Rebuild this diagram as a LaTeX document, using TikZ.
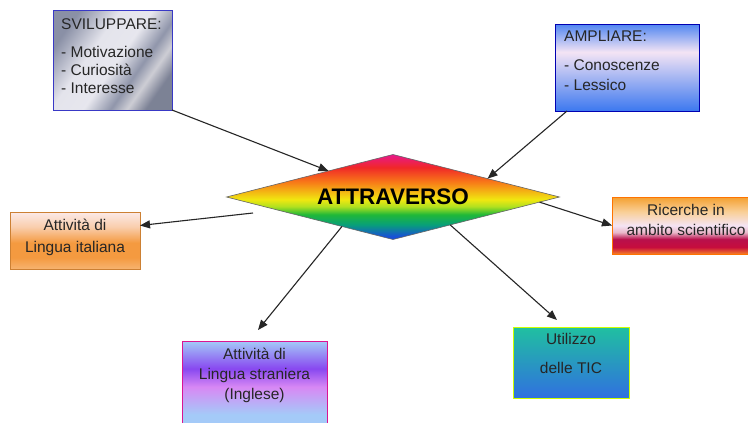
\documentclass[tikz,border=0pt]{standalone}
\usepackage{fontspec}
\setmainfont{Liberation Sans}
\usetikzlibrary{shapes.geometric,arrows.meta}

\definecolor{rbMagenta}{HTML}{E8188C}
\definecolor{rbRed}{HTML}{F02828}
\definecolor{rbOrange}{HTML}{F87818}
\definecolor{rbYellow}{HTML}{F0E810}
\definecolor{rbLime}{HTML}{B0E020}
\definecolor{rbGreen}{HTML}{20B838}
\definecolor{rbTeal}{HTML}{08A078}
\definecolor{rbBlue}{HTML}{1850D8}
\definecolor{metalDark}{HTML}{8A90A6}
\definecolor{metalLight}{HTML}{E4E4EC}
\definecolor{skyBlue}{HTML}{3C78F0}
\definecolor{skyPale}{HTML}{F4E4F4}
\definecolor{peach}{HTML}{F49A40}
\definecolor{peachPale}{HTML}{FCEAE8}
\definecolor{crimson}{HTML}{B8104C}
\definecolor{amber}{HTML}{F4A030}
\definecolor{violet}{HTML}{8848F0}
\definecolor{orchid}{HTML}{D888F4}
\definecolor{iceBlue}{HTML}{A4CAF8}
\definecolor{sea}{HTML}{20C0A0}
\definecolor{ocean}{HTML}{3070E0}

% rainbow for the central diamond
\pgfdeclareverticalshading{rainbow}{100bp}{color(0bp)=(rbBlue); color(26.8bp)=(rbBlue);
  color(33.8bp)=(rbTeal); color(39.7bp)=(rbGreen); color(44.4bp)=(rbLime);
  color(48.5bp)=(rbYellow); color(59bp)=(rbOrange); color(67.4bp)=(rbRed);
  color(75bp)=(rbMagenta); color(100bp)=(rbMagenta)}
\pgfdeclarehorizontalshading{metal}{100bp}{color(0bp)=(metalDark); color(25bp)=(metalDark);
  color(40bp)=(metalLight); color(52bp)=(metalLight!90!white); color(62bp)=(metalDark!95!white);
  color(68bp)=(metalLight!90!black); color(75bp)=(metalDark!90!black); color(100bp)=(metalDark!90!black)}
\pgfdeclareverticalshading{sky}{100bp}{color(0bp)=(skyBlue); color(25bp)=(skyBlue);
  color(58.9bp)=(skyPale); color(75bp)=(skyBlue!90!white); color(100bp)=(skyBlue!90!white)}
\pgfdeclareverticalshading{peachy}{100bp}{color(0bp)=(peach!75!white); color(25bp)=(peach!75!white);
  color(35bp)=(peach); color(48bp)=(peach); color(62bp)=(peach!35!peachPale);
  color(75bp)=(peachPale); color(100bp)=(peachPale)}
\pgfdeclareverticalshading{sunset}{100bp}{color(0bp)=(amber!80!red); color(25bp)=(amber!80!red);
  color(31bp)=(crimson!80!red); color(38bp)=(crimson); color(44bp)=(crimson!30!white);
  color(50bp)=(skyPale); color(62bp)=(amber!50!white); color(75bp)=(amber); color(100bp)=(amber)}
\pgfdeclareverticalshading{lilac}{100bp}{color(0bp)=(iceBlue); color(25bp)=(iceBlue);
  color(35bp)=(iceBlue); color(50bp)=(orchid); color(60bp)=(violet); color(75bp)=(iceBlue);
  color(100bp)=(iceBlue)}
\pgfdeclareverticalshading{lagoon}{100bp}{color(0bp)=(ocean); color(25bp)=(ocean);
  color(75bp)=(sea); color(100bp)=(sea)}

\begin{document}
\begin{tikzpicture}[x=1pt,y=-1pt,
    card/.style={draw, rectangle, anchor=north west, inner sep=0pt, outer sep=0pt, line width=1pt},
    cardtext/.style={inner sep=0pt, text=black!85, font=\fontsize{15.5}{18}\selectfont},
    link/.style={draw=black!85, line width=1.1pt, -{Triangle[length=10pt,width=8pt]}}]
  \clip (0,0) rectangle (748,423);
  \fill[white] (0,0) rectangle (748,423);

  % centre
  \node[diamond, aspect=3.9, draw=black!60, line width=0.6pt, shading=rainbow,
    minimum width=333pt, minimum height=85pt, inner sep=0pt, outer sep=0pt,
    font=\fontsize{22.5}{27}\selectfont\bfseries] (hub) at (393,197) {ATTRAVERSO};

  % boxes
  \node[card, draw=blue!55!gray, shading=metal, shading angle=-35,
    minimum width=119pt, minimum height=100pt] (svil) at (53,10) {};
  \node[cardtext, anchor=north west, align=left] (sviltxt) at (61,18)
    {SVILUPPARE:\\[10pt]- Motivazione\\- Curiosità\\- Interesse};

  \node[card, draw=blue!70!black, shading=sky,
    minimum width=144pt, minimum height=87pt] (ampl) at (555,24) {};
  \node[cardtext, anchor=north west, align=left,
    font=\fontsize{15.5}{19}\selectfont] (ampltxt) at (564,31)
    {AMPLIARE:\\[10pt]- Conoscenze\\[1pt]- Lessico};

  \node[card, draw=brown!80!orange, shading=peachy,
    minimum width=130pt, minimum height=57pt] (ital) at (10,212) {};
  \node[cardtext, anchor=north, align=center,
    font=\fontsize{15.5}{22}\selectfont] (italtxt) at (75,218.5) {Attività di\\Lingua italiana};

  \node[card, draw=orange!90!red, shading=sunset,
    minimum width=148pt, minimum height=57pt] (ricer) at (612,197) {};
  \node[cardtext, anchor=north, align=center,
    font=\fontsize{15.5}{20}\selectfont] (ricertxt) at (686,204.5) {Ricerche in\\ambito scientifico};

  \node[card, draw=magenta!80!violet, shading=lilac,
    minimum width=145pt, minimum height=92pt] (stran) at (182,341) {};
  \node[cardtext, anchor=north, align=center,
    font=\fontsize{15.5}{20}\selectfont] (strantxt) at (254.5,347.5)
    {Attività di\\Lingua straniera\\(Inglese)};

  \node[card, draw=lime!80!yellow, shading=lagoon,
    minimum width=116pt, minimum height=71pt] (tic) at (513,327) {};
  \node[cardtext, anchor=north, align=center] (tictxt) at (571,333.5)
    {Utilizzo\\[11pt]delle TIC};

  % free ends
  \coordinate (italfrom) at (253,213);
  \coordinate (stranto) at (258,330);
  \coordinate (ticto) at (557,320);

  % connectors
  \draw[link] (svil.south east) -- (hub.158);
  \draw[link] ([xshift=12pt]ampl.south west) -- (hub.11.4);
  \draw[link] (italfrom) -- (ital.13);
  \draw[link] (hub.210.3) -- (stranto);
  \draw[link] (hub.334.9) -- (ticto);
  \draw[link] (hub.358.4) -- (ricer.west);
\end{tikzpicture}
\end{document}
